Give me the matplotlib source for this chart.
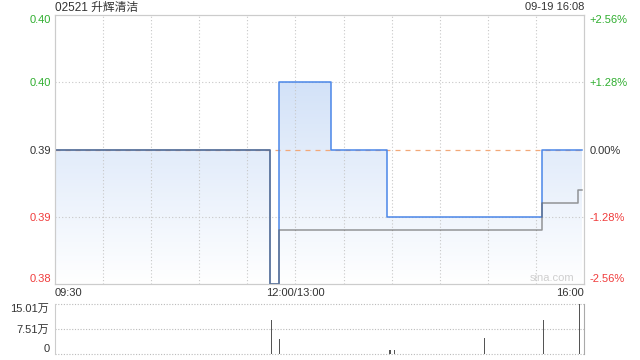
import matplotlib
matplotlib.use('Agg')
import matplotlib.pyplot as plt
import numpy as np
from matplotlib.colors import LinearSegmentedColormap

plt.rcParams['font.family'] = ['Liberation Sans', 'Noto Sans CJK SC', 'DejaVu Sans']

TITLE = '02521 升辉清洁'
STAMP = '09-19 16:08'
PREV_CLOSE = 0.39

# 分时价格 (变动点)
price_times = ['09:30', '11:44', '11:50', '13:22', '13:57', '15:34', '15:59']
price_values = [0.39, 0.38, 0.395, 0.39, 0.385, 0.39, 0.39]

# 均价线
avg_times = ['09:30', '11:44', '11:50', '15:34', '15:56', '15:59']
avg_values = [0.39, 0.38, 0.384, 0.386, 0.387, 0.387]

# 成交量 (万股)
vol_times = ['11:45', '11:50', '13:24', '13:59', '14:02', '14:13', '14:58', '15:35', '15:57']
vol_values = [10.2, 4.4, 0.15, 1.2, 1.2, 0.15, 4.8, 10.2, 15.01]

price_ticks = [0.38, 0.385, 0.39, 0.395, 0.40]
price_labels = ['0.38', '0.39', '0.39', '0.40', '0.40']
pct_labels = ['-2.56%', '-1.28%', '0.00%', '+1.28%', '+2.56%']

vol_ticks = [0, 7.51, 15.01]
vol_labels = ['0', '7.51万', '15.01万']

time_ticks = ['09:30', '12:00', '16:00']
time_labels = ['09:30', '12:00/13:00', '16:00']

GREEN = '#2fae2f'
RED = '#f03c3c'
DARK = '#333333'
GRID = '#c8c8c8'
FS = 8


def to_minute(hhmm):
    """交易时间 -> 分钟序号 (午间休市折叠)"""
    h, m = map(int, hhmm.split(':'))
    total = h * 60 + m
    if total <= 12 * 60:
        return total - (9 * 60 + 30)
    return total - 13 * 60 + 150


def tick_color(v):
    if v > PREV_CLOSE + 1e-9:
        return GREEN
    if v < PREV_CLOSE - 1e-9:
        return RED
    return DARK


def main():
    fig = plt.figure(figsize=(6.4, 3.6), dpi=100)
    left, width = 55 / 640, 529 / 640
    ax = fig.add_axes([left, 1 - 284 / 360, width, 269 / 360])
    axv = fig.add_axes([left, 1 - 354 / 360, width, 50 / 360])

    px = [to_minute(t) for t in price_times]
    ax_x = [to_minute(t) for t in avg_times]
    ymin, ymax = price_ticks[0], price_ticks[-1]

    # 渐变填充
    poly = ax.fill_between(px, price_values, ymin, step='post', facecolor='none', edgecolor='none')
    cmap = LinearSegmentedColormap.from_list('fill', ['#ffffff', '#d3e2f8'])
    grad = np.linspace(0, 1, 256).reshape(-1, 1)
    im = ax.imshow(grad, cmap=cmap, origin='lower', aspect='auto',
                   extent=[0, 330, ymin, max(price_values)], zorder=1)
    im.set_clip_path(poly.get_paths()[0], transform=ax.transData)

    # 网格
    for k in range(1, 11):
        ax.axvline(k * 30, color=GRID, lw=0.8, ls=(0, (1, 2)), zorder=2)
    for v in [0.385, 0.395]:
        ax.axhline(v, color=GRID, lw=0.8, ls=(0, (1, 2)), zorder=2)
    ax.axhline(PREV_CLOSE, color='#f2a878', lw=0.9, ls=(0, (4, 4)), zorder=2)

    ax.plot(px, price_values, drawstyle='steps-post', color='#4a86e8', lw=1.1, zorder=3)
    ax.plot(ax_x, avg_values, drawstyle='steps-post', color='#606060', lw=1.1, alpha=0.65, zorder=4)

    ax.set_xlim(0, 330)
    ax.set_ylim(ymin, ymax)
    for s in ax.spines.values():
        s.set_color('#cccccc')

    ax.set_yticks(price_ticks, price_labels)
    ax.tick_params(axis='both', length=0, labelsize=FS, colors=DARK)
    ax.tick_params(axis='y', pad=3)
    ax.tick_params(axis='x', pad=3)
    for lab, v in zip(ax.get_yticklabels(), price_ticks):
        lab.set_color(tick_color(v))
    ax.get_yticklabels()[0].set_va('bottom')
    ax.get_yticklabels()[-1].set_va('top')

    ax2 = ax.twinx()
    ax2.set_ylim(ymin, ymax)
    ax2.set_yticks(price_ticks, pct_labels)
    ax2.tick_params(axis='y', length=0, labelsize=FS, pad=4)
    for lab, v in zip(ax2.get_yticklabels(), price_ticks):
        lab.set_color(tick_color(v))
    ax2.get_yticklabels()[0].set_va('bottom')
    ax2.get_yticklabels()[-1].set_va('top')
    for s in ax2.spines.values():
        s.set_color('#cccccc')

    ax.set_xticks([to_minute(t) for t in time_ticks], time_labels)
    xl = ax.get_xticklabels()
    xl[0].set_ha('left')
    xl[-1].set_ha('right')

    ax.text(0.94, 0.022, 'sina.com', transform=ax.transAxes, color='#cfcfcf',
            fontsize=8, ha='center', va='center', zorder=5)

    fig.text(left, 1 - 7.5 / 360, TITLE, fontsize=8.5, color=DARK, va='center', ha='left')
    fig.text(584 / 640, 1 - 7.5 / 360, STAMP, fontsize=FS, color=DARK, va='center', ha='right')

    # 成交量
    vx = [to_minute(t) for t in vol_times]
    axv.bar(vx, vol_values, width=0.7, color='#555555', zorder=3)
    axv.set_xlim(0, 330)
    axv.set_ylim(0, vol_ticks[-1])
    for v in vol_ticks:
        axv.axhline(v, color='#bbbbbb', lw=0.8, ls=(0, (1, 1.5)), zorder=1, clip_on=False)
    axv.spines['top'].set_visible(False)
    axv.spines['bottom'].set_visible(False)
    axv.spines['left'].set_color('#cccccc')
    axv.spines['right'].set_color('#aaaaaa')
    axv.set_xticks([])
    axv.set_yticks(vol_ticks, vol_labels)
    axv.tick_params(axis='y', length=0, labelsize=FS, colors=DARK, pad=4)
    axv.get_yticklabels()[0].set_va('bottom')
    axv.get_yticklabels()[-1].set_va('top')

    fig.savefig('out.png', dpi=100)
    plt.close(fig)


if __name__ == '__main__':
    main()
